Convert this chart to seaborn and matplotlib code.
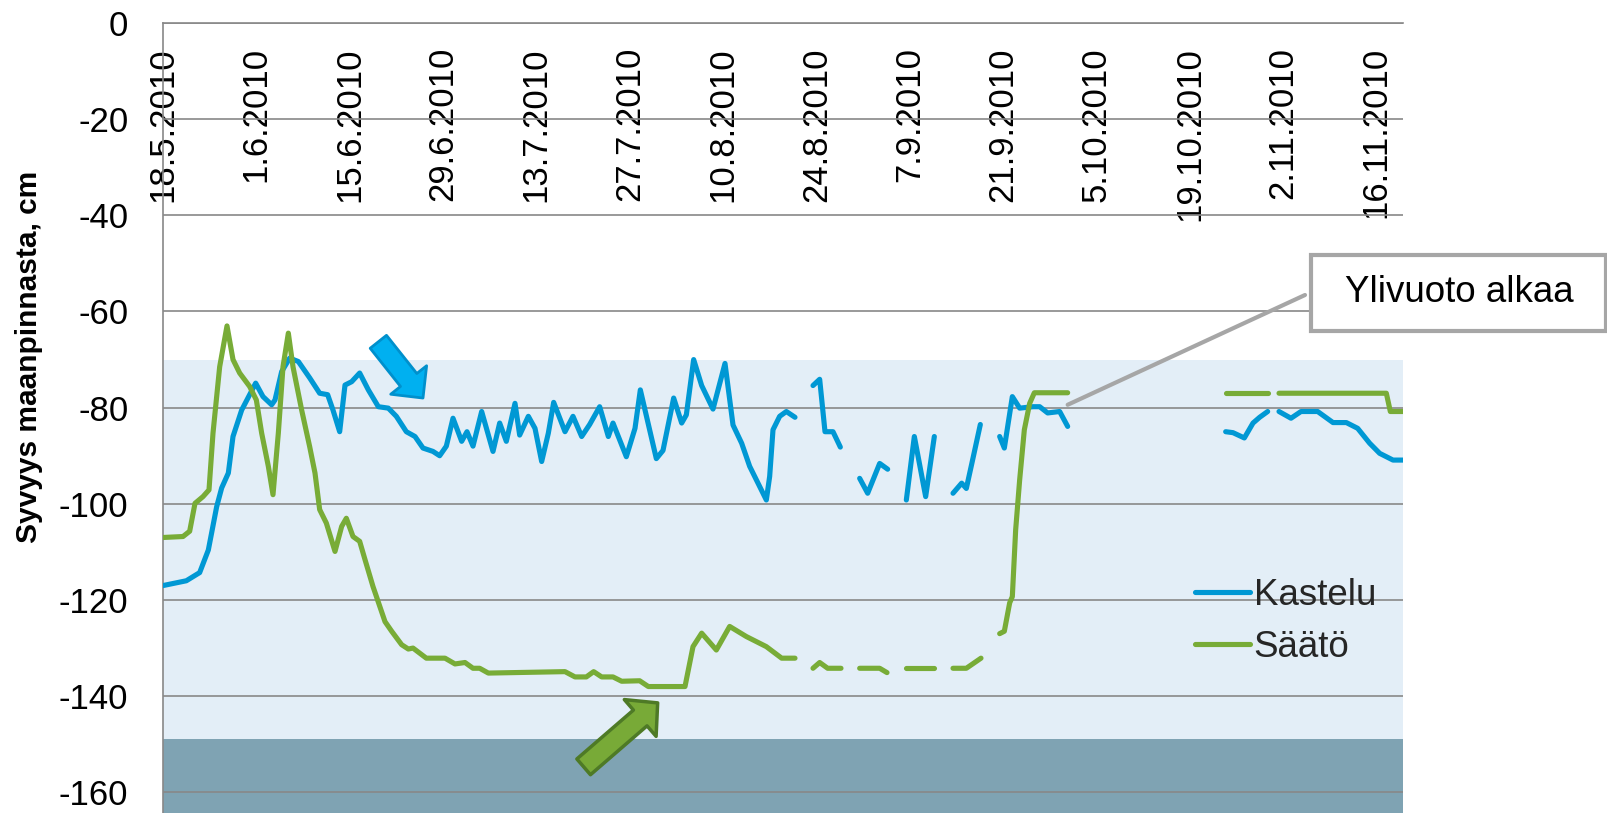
import numpy as np
import pandas as pd
import matplotlib
matplotlib.use("Agg")
import matplotlib.pyplot as plt
import matplotlib.dates as mdates
import seaborn as sns
from matplotlib.patches import FancyArrowPatch, Rectangle, ArrowStyle

sns.set_theme(style="white")
plt.rcParams['font.family'] = ['Liberation Sans', 'DejaVu Sans']
plt.rcParams['axes.unicode_minus'] = False

# data (days from 18.5.2010, depth in cm), nan = break in the measurements
start = pd.Timestamp("2010-05-18")
nan = np.nan

kastelu_day = [0, 3.5, 5.5, 6.8, 8.05, 8.8, 9.8, 10.5, 11.8, 13.9, 15, 16.3, 16.8, 17.8, 19.0, 20.3,
               22, 23.5, 24.7, 25.5, 26.5, 27.3, 28.3, 29.5, 30.8, 32.3, 33.8, 35, 36.5, 37.8, 39,
               40.5, 41.5, 42.5, 43.5, 44.8, 45.6, 46.5, 47.8, 49.5, 50.5, 51.5, 52.8, 53.5, 54.8,
               55.8, 56.8, 57.8, 58.6, 60.3, 61.5, 62.8, 64, 65.5, 66.8, 67.5, 69.5, 70.8, 71.6,
               74, 75, 76.6, 77.8, 78.5, 79.6, 80.8, 82.5, 84.3, 85.5, 86.8, 88, 90.5, 91, 91.5,
               92.5, 93.5, 94.8,
               96,
               97.5, 98.5, 99.3, 100.5, 101.6,
               103,
               104.5, 105.7, 107.5, 108.7,
               110,
               111.5, 112.7, 114.4, 115.7,
               117,
               118.5, 119.8, 120.5, 121.5, 122.6,
               124,
               125.5, 126.2, 127.4, 128.5, 130.5, 131.5, 132.7, 134.5, 135.7,
               150,
               159.4, 160.5, 162.2, 163.5, 164.5, 165.7,
               166.5,
               167.4, 169.2, 170.7, 173.2, 175.5, 177.5, 179.2, 181, 182.5, 184.5, 186]
kastelu_cm = [-117.0, -116, -114.3, -109.6, -100.6, -96.7, -93.6, -86, -80.5, -74.9, -77.7, -79.4,
              -78.4, -72.5, -69.7, -70.4, -73.8, -77, -77.3, -80.5, -85, -75.3, -74.6, -72.8, -76.3,
              -79.8, -80.1, -81.8, -85, -86, -88.4, -89.1, -90, -88, -82.2, -87, -85, -88, -80.8,
              -89.1, -83.2, -87, -79.1, -85.7, -81.8, -84.3, -91.2, -85.3, -78.9, -85, -81.8, -86,
              -83.5, -79.8, -86, -83.2, -90.2, -84.3, -76.3, -90.6, -88.9, -78, -83.2, -81.5, -70.0,
              -75.4, -80.3, -70.8, -83.6, -87.4, -92.2, -99.2, -94.3, -84.6, -81.8, -80.8, -82,
              nan,
              -75.4, -74.1, -85, -85, -88.2,
              nan,
              -94.7, -97.8, -91.6, -92.8,
              nan,
              -99.2, -86, -98.5, -86,
              nan,
              -97.8, -95.7, -96.8, -90.5, -83.5,
              nan,
              -86, -88.4, -77.7, -80.1, -79.8, -79.8, -81.1, -80.8, -83.9,
              nan,
              -85, -85.2, -86.3, -83.2, -82, -80.8,
              nan,
              -80.8, -82.2, -80.8, -80.8, -83.1, -83.1, -84.3, -87.4, -89.5, -90.9, -90.9]

saato_day = [0, 3, 4, 4.8, 6, 6.9, 7.5, 8.5, 9.6, 10.5, 11.5, 13, 14, 14.8, 15.8, 16.5, 17.3, 18,
             18.8, 19.5, 20.8, 22, 22.8, 23.5, 24.5, 25.8, 26.8, 27.5, 28.5, 29.5, 30.3, 31.5,
             33.3, 34.3, 35.8, 36.8, 37.5, 39.5, 42.3, 43.8, 45.3, 46.5, 47.5, 48.8, 60.3, 61.8,
             63.5, 64.6, 65.8, 67.5, 68.8, 71.5, 72.8, 78.3, 79.5, 80.8, 83, 85, 87.5, 90.5, 92.8,
             94.8,
             96,
             97.5, 98.5, 99.7, 101.7,
             103,
             104.5, 107.5, 108.6,
             110,
             111.5, 115.7,
             117,
             118.5, 120.5, 122.7,
             124,
             125.5, 126.2, 127, 127.4, 127.9, 128.5, 129.2, 130, 130.7, 135.7,
             150,
             159.4, 165.7,
             166.5,
             167.4, 183.5, 184.1, 186]
saato_cm = [-107, -106.8, -105.7, -99.9, -98.5, -97.1, -85.3, -71.5, -63, -70, -72.8, -75.6, -78.4,
            -85.3, -92.2, -98.1, -85.3, -71.5, -64.5, -71.5, -80.5, -88.1, -93.6, -101.2, -104,
            -109.9, -104.7, -103, -106.8, -107.8, -111.6, -117.2, -124.5, -126.5, -129.3, -130.2,
            -130, -132.1, -132.1, -133.3, -133, -134.2, -134.2, -135.2, -134.9, -136, -136, -134.9,
            -136, -136, -136.9, -136.8, -138, -138, -129.7, -126.9, -130.4, -125.5, -127.6, -129.7,
            -132.1, -132.1,
            nan,
            -134.2, -133, -134.2, -134.2,
            nan,
            -134.2, -134.2, -135.1,
            nan,
            -134.2, -134.2,
            nan,
            -134.2, -134.2, -132.1,
            nan,
            -127, -126.5, -120.6, -119.3, -105.4, -95, -84.6, -79.1, -76.9, -76.9,
            nan,
            -77, -77,
            nan,
            -77, -77, -80.8, -80.8]

tick_labels = ["18.5.2010", "1.6.2010", "15.6.2010", "29.6.2010", "13.7.2010", "27.7.2010",
               "10.8.2010", "24.8.2010", "7.9.2010", "21.9.2010", "5.10.2010", "19.10.2010",
               "2.11.2010", "16.11.2010"]
y_ticks = [0, -20, -40, -60, -80, -100, -120, -140, -160]

band_light = (-149, -70)
band_dark = (-170, -149)


def to_frame(days, cm, name):
    d = pd.DataFrame({"day": days, "cm": cm})
    d["seg"] = d["cm"].isna().cumsum()
    d = d.dropna().copy()
    d["date"] = start + pd.to_timedelta(d["day"], unit="D")
    d["Sarja"] = name
    d["unit"] = name + d["seg"].astype(str)
    return d


df = pd.concat([to_frame(kastelu_day, kastelu_cm, "Kastelu"),
                to_frame(saato_day, saato_cm, "Säätö")])


def dnum(day):
    return mdates.date2num(start + pd.Timedelta(days=day))


fig = plt.figure(figsize=(16.08, 8.13), dpi=100)
ax = fig.add_axes([163 / 1608, 0, 1240 / 1608, 790 / 813])

ax.axhspan(*band_dark, color="#7FA3B3", zorder=0, lw=0)
ax.axhspan(*band_light, color="#E3EEF7", zorder=0, lw=0)

sns.lineplot(data=df, x="date", y="cm", hue="Sarja", units="unit", estimator=None, sort=False,
             hue_order=["Kastelu", "Säätö"],
             palette={"Kastelu": "#0098D4", "Säätö": "#78AC37"},
             ax=ax, zorder=3)
for line in ax.lines:
    line.set_linewidth(3.7)
    line.set_solid_capstyle("round")
    line.set_solid_joinstyle("round")

ax.set_xlim(dnum(0), dnum(186))
ax.set_ylim(-164.3, 0)

# axes look
for s in ["right", "bottom"]:
    ax.spines[s].set_visible(False)
for s in ["left", "top"]:
    ax.spines[s].set_color("#888888")
    ax.spines[s].set_linewidth(1.2)
ax.set_yticks(y_ticks)
ax.set_yticklabels([str(v) for v in y_ticks])
ax.yaxis.grid(True, color="#888888", lw=1.2, zorder=1)
ax.xaxis.grid(False)
ax.set_axisbelow("line")
ax.tick_params(axis="y", length=0, pad=25, labelsize=25, colors="black")

ax.xaxis.tick_top()
ax.set_xticks([dnum(14 * i) for i in range(len(tick_labels))])
ax.set_xticklabels(tick_labels, rotation=90, va="top", ha="center")
ax.tick_params(axis="x", length=0, pad=-17.3, labelsize=25, colors="black")
ax.set_xlabel("")

ax.set_ylabel("Syvyys maanpinnasta, cm", fontsize=21.5, fontweight="bold", color="black")
ax.yaxis.set_label_coords(-0.108, 0.577)
ax.yaxis.label.set_verticalalignment("center")

# legend
handles, labels = ax.get_legend_handles_labels()
for h in handles:
    h.set_linewidth(3.7)
ax.legend(handles, labels, loc="upper left", bbox_to_anchor=(0.832, 0.297), frameon=False,
          fontsize=26.5, handlelength=1.5, handletextpad=0.1, borderpad=0, borderaxespad=0,
          labelspacing=0.45)

# arrows
blue_arrow = FancyArrowPatch(posA=(dnum(32.3), -66.3), posB=(dnum(39.0), -78.0),
                             arrowstyle=ArrowStyle.Simple(head_length=16.6, head_width=33, tail_width=15),
                             fc="#00B0F0", ec="#0090CC", lw=2, shrinkA=0, shrinkB=0, zorder=4)
ax.add_patch(blue_arrow)
green_arrow = FancyArrowPatch(posA=(dnum(63.1), -154.7), posB=(dnum(74.2), -141.4),
                              arrowstyle=ArrowStyle.Simple(head_length=16.6, head_width=35, tail_width=15),
                              fc="#78AA37", ec="#4E7A26", lw=2.5, shrinkA=0, shrinkB=0, zorder=4)
ax.add_patch(green_arrow)

# callout
ax.annotate("", xy=(dnum(135.7), -79.4), xycoords="data",
            xytext=(1305 / 1608, (813 - 295) / 813), textcoords="figure fraction",
            arrowprops=dict(arrowstyle="-", color="#A6A6A6", lw=3, shrinkA=0, shrinkB=0),
            annotation_clip=False)
fig.add_artist(Rectangle((1311 / 1608, (813 - 331.5) / 813), 295 / 1608, 76.5 / 813,
                         transform=fig.transFigure, fc="white", ec="#A6A6A6", lw=3))
fig.text(1459 / 1608, (813 - 293) / 813, "Ylivuoto alkaa", ha="center", va="center",
         fontsize=26.5, color="black")

plt.savefig("out.png", dpi=100)
